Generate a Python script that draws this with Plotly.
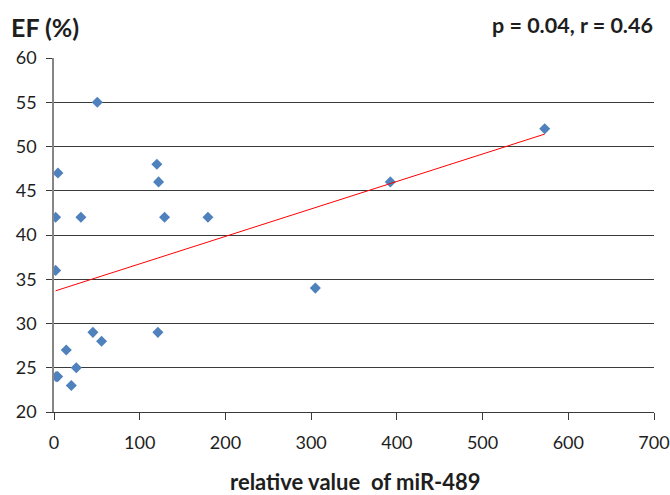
import numpy as np
import plotly.graph_objects as go

# relative value of miR-489 vs EF (%)
mir489 = [1.9, 2.5, 4.3, 4.6, 1.9, 14.3, 20.2, 26.0, 31.4, 45.4, 50.5, 55.5,
          120.0, 122.0, 121.2, 129.0, 179.6, 304.9, 392.4, 572.5]
ef = [36, 24, 24, 47, 42, 27, 23, 25, 42, 29, 55, 28,
      48, 46, 29, 42, 42, 34, 46, 52]

x_ticks = [0, 100, 200, 300, 400, 500, 600, 700]
y_ticks = [20, 25, 30, 35, 40, 45, 50, 55, 60]

slope, intercept = np.polyfit(mir489, ef, 1)
fit_x = [min(mir489), max(mir489)]
fit_y = [intercept + slope * v for v in fit_x]

FONT = "Lato"
TXT = "#1e1e1e"

fig = go.Figure()
fig.add_trace(go.Scatter(
    x=mir489, y=ef, mode="markers",
    marker=dict(symbol="diamond", size=8.5, color="#4f81bd", line=dict(width=0)),
    showlegend=False, hoverinfo="skip"))
fig.add_trace(go.Scatter(
    x=fit_x, y=fit_y, mode="lines",
    line=dict(color="#ff0000", width=1),
    showlegend=False, hoverinfo="skip"))

fig.update_layout(
    width=670, height=495,
    margin=dict(l=54, r=16, t=58, b=83, autoexpand=False),
    paper_bgcolor="white", plot_bgcolor="white",
    font=dict(family=FONT, size=18, color=TXT),
    xaxis=dict(range=[0, 700], tickvals=x_ticks, showgrid=False, zeroline=False,
               showline=True, linecolor="#3a3a3a", linewidth=1,
               ticks="outside", ticklen=7, tickcolor="#3a3a3a", tickwidth=1,
               ticklabelstandoff=7,
               tickfont=dict(size=18, family=FONT, color=TXT)),
    yaxis=dict(range=[20, 60], tickvals=y_ticks, showgrid=True, gridcolor="#3a3a3a",
               gridwidth=1, zeroline=False,
               showline=True, linecolor="#868686", linewidth=1.5,
               ticks="outside", ticklen=6, tickcolor="#3a3a3a", tickwidth=1,
               ticklabelstandoff=6,
               tickfont=dict(size=18, family=FONT, color=TXT)),
    annotations=[
        dict(text="<b>EF (%)</b>", xref="paper", yref="paper", x=-0.075, y=1.0876,
             xanchor="left", yanchor="middle", showarrow=False,
             font=dict(size=25, family=FONT, color=TXT)),
        dict(text="<b>p = 0.04, r = 0.46</b>", xref="paper", yref="paper", x=1.0017, y=1.0946,
             xanchor="right", yanchor="middle", showarrow=False,
             font=dict(size=21.5, family=FONT, color=TXT)),
        dict(text="<b>relative value\u00a0 of miR-489</b>", xref="paper", yref="paper",
             x=0.502, y=-0.195, xanchor="center", yanchor="middle", showarrow=False,
             font=dict(size=22, family=FONT, color=TXT)),
    ],
)

fig.write_html("out.html", post_script="document.body.style.margin='0';",
               config={"displayModeBar": False})
